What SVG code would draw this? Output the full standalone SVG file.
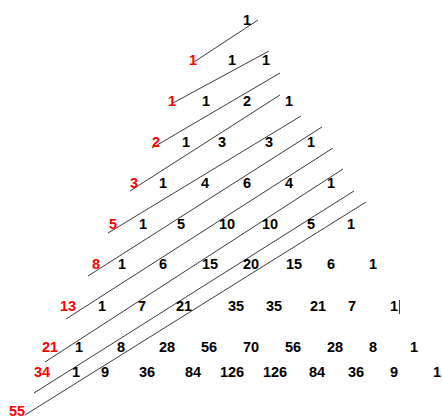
<svg xmlns="http://www.w3.org/2000/svg" width="442" height="418" viewBox="0 0 442 418">
<style>
text{font-family:"Liberation Sans",Arial,sans-serif;font-weight:bold;font-size:14.5px;text-anchor:middle;fill:#000}
text.f{fill:#ff0000}
.ln line{stroke:#3a3a3a;stroke-width:1}
</style>
<rect width="442" height="418" fill="#fff"/>
<g id="diagonals" class="ln">
<line x1="194" y1="62" x2="258" y2="20"/>
<line x1="173" y1="103" x2="269" y2="51"/>
<line x1="152" y1="148" x2="280" y2="73"/>
<line x1="130" y1="191" x2="280" y2="95"/>
<line x1="108" y1="233" x2="301" y2="116"/>
<line x1="88" y1="276" x2="322" y2="127"/>
<line x1="66" y1="319" x2="333" y2="148"/>
<line x1="45" y1="362" x2="343" y2="169"/>
<line x1="34" y1="393" x2="354" y2="191"/>
<line x1="25" y1="415" x2="366" y2="202"/>
<line x1="399.5" y1="300" x2="399.5" y2="314"/>
</g>
<g id="row0"><text x="247" y="25">1</text></g>
<g id="row1"><text class="f" x="193" y="65">1</text><text x="232" y="65">1</text><text x="266" y="65">1</text></g>
<g id="row2"><text class="f" x="172" y="106">1</text><text x="206" y="106">1</text><text x="247" y="106">2</text><text x="289" y="106">1</text></g>
<g id="row3"><text class="f" x="156" y="147">2</text><text x="186" y="147">1</text><text x="222" y="147">3</text><text x="269" y="147">3</text><text x="311" y="147">1</text></g>
<g id="row4"><text class="f" x="134" y="188">3</text><text x="163" y="188">1</text><text x="205" y="188">4</text><text x="247" y="188">6</text><text x="289" y="188">4</text><text x="331" y="188">1</text></g>
<g id="row5"><text class="f" x="113" y="229">5</text><text x="143" y="229">1</text><text x="181" y="229">5</text><text x="227" y="229">10</text><text x="270" y="229">10</text><text x="311" y="229">5</text><text x="351" y="229">1</text></g>
<g id="row6"><text class="f" x="96" y="269">8</text><text x="122" y="269">1</text><text x="163" y="269">6</text><text x="210" y="269">15</text><text x="251" y="269">20</text><text x="294" y="269">15</text><text x="331" y="269">6</text><text x="373" y="269">1</text></g>
<g id="row7"><text class="f" x="68" y="311">13</text><text x="102" y="311">1</text><text x="142" y="311">7</text><text x="184" y="311">21</text><text x="236" y="311">35</text><text x="274" y="311">35</text><text x="318" y="311">21</text><text x="352" y="311">7</text><text x="394" y="311">1</text></g>
<g id="row8"><text class="f" x="50" y="352">21</text><text x="79" y="352">1</text><text x="121" y="352">8</text><text x="167" y="352">28</text><text x="209" y="352">56</text><text x="251" y="352">70</text><text x="293" y="352">56</text><text x="335" y="352">28</text><text x="373" y="352">8</text><text x="414" y="352">1</text></g>
<g id="row9"><text class="f" x="42" y="377">34</text><text x="76" y="377">1</text><text x="105" y="377">9</text><text x="147" y="377">36</text><text x="193" y="377">84</text><text x="232" y="377">126</text><text x="275" y="377">126</text><text x="317" y="377">84</text><text x="356" y="377">36</text><text x="394" y="377">9</text><text x="437" y="377">1</text></g>
<g id="row10"><text class="f" x="17" y="415.5">55</text></g>
</svg>
